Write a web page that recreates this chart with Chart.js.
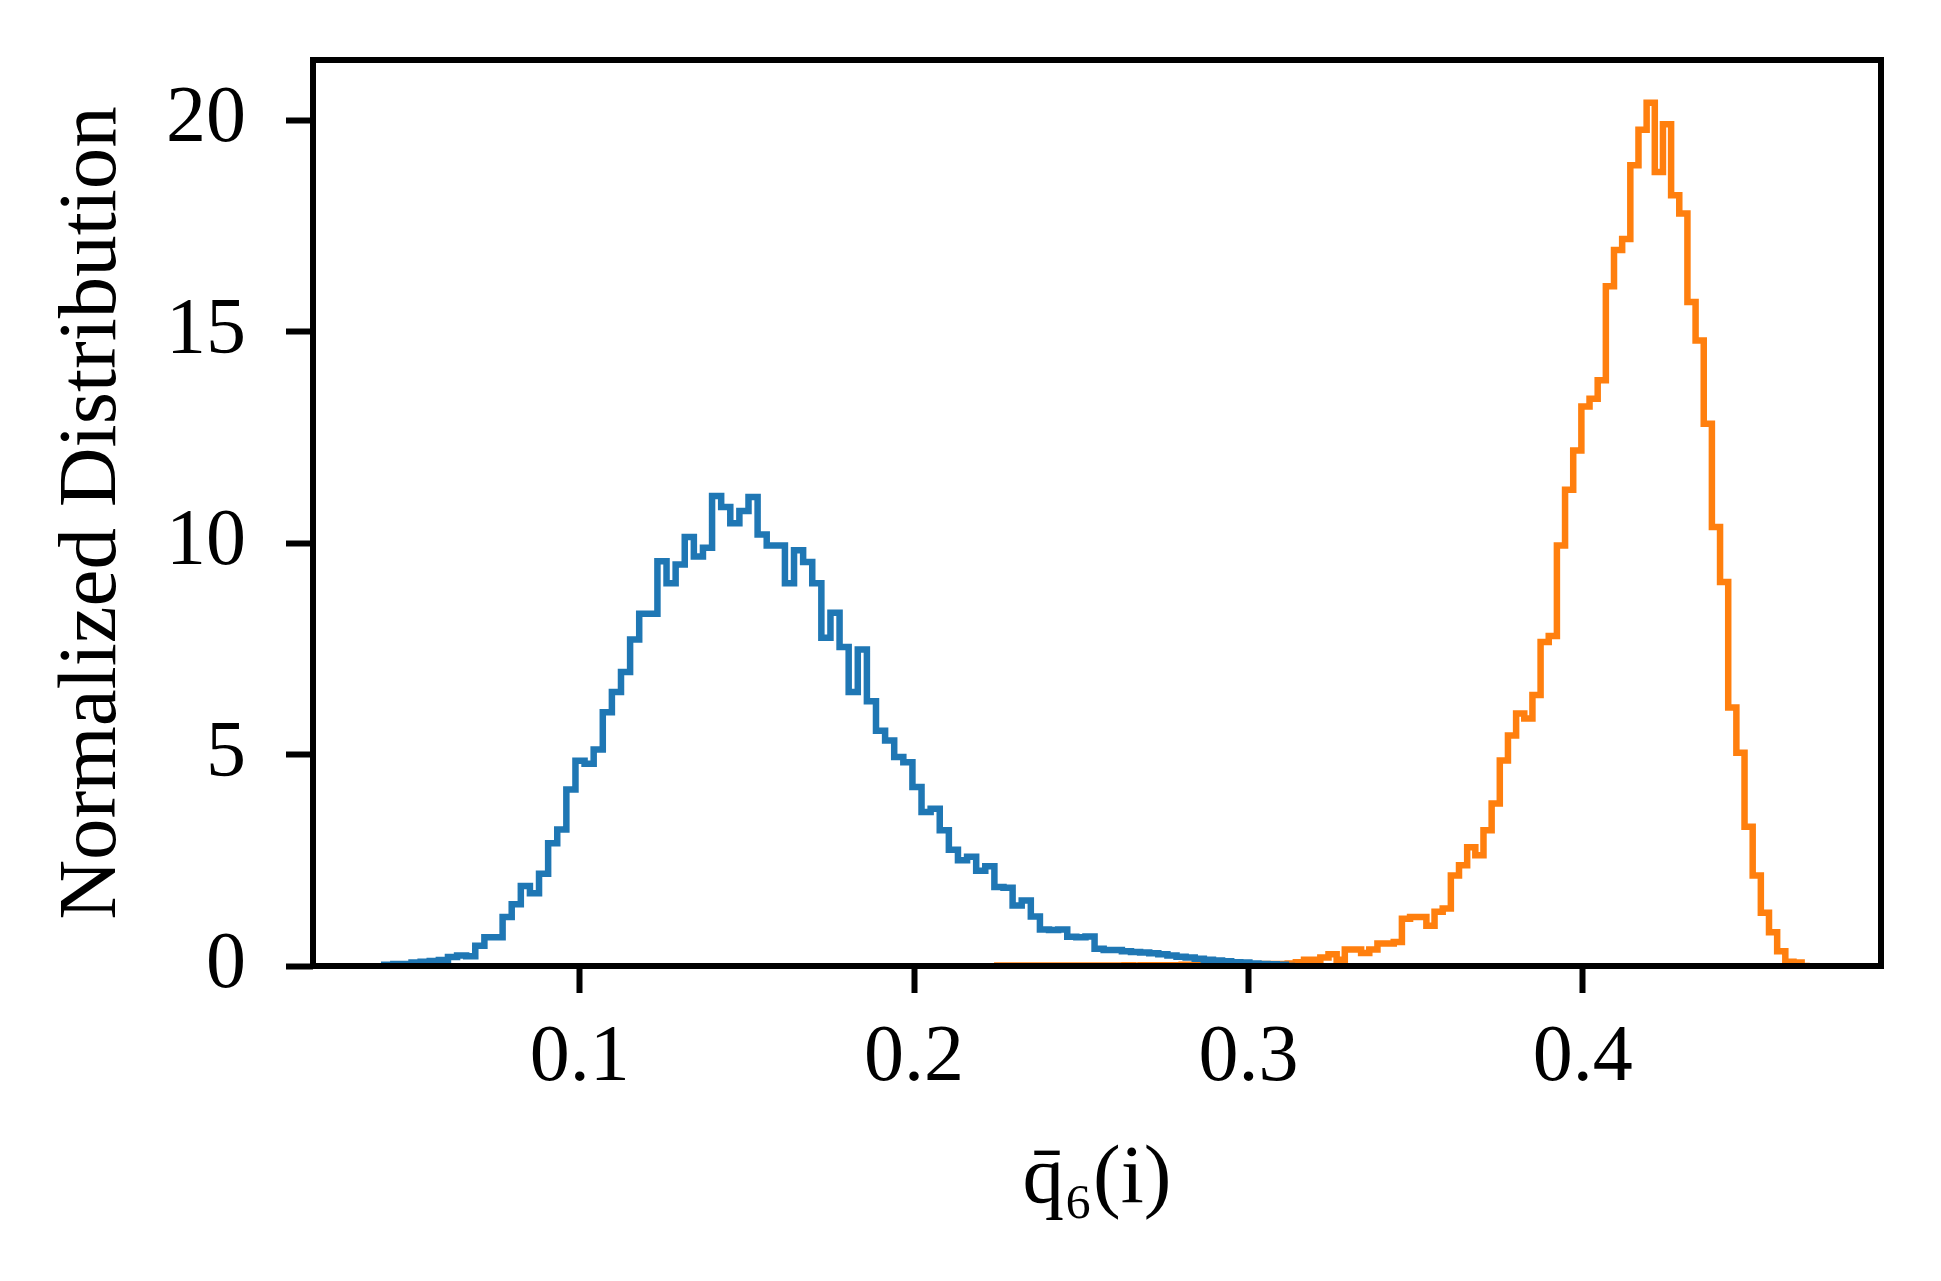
<!DOCTYPE html>
<html><head><meta charset="utf-8">
<script src="https://cdn.jsdelivr.net/npm/chart.js@4"></script>
<style>html,body{margin:0;padding:0;background:#fff;} #wrap{width:1941px;height:1281px;position:relative;}</style>
</head><body><div id="wrap"><canvas id="c" width="1941" height="1281"></canvas></div>
<script>
// Histogram bin heights (100 bins each)
const blueValues = [
 0.03,0.03,0.05,0.05,0.08,0.10,0.12,0.14,0.21,0.25,
 0.23,0.48,0.68,0.68,1.16,1.46,1.89,1.72,2.18,2.90,
 3.23,4.17,4.85,4.78,5.12,6.00,6.48,6.95,7.72,8.33,
 8.33,9.57,9.05,9.49,10.14,9.68,9.89,11.11,10.85,10.47,
 10.76,11.09,10.20,9.94,9.94,9.05,9.83,9.55,9.05,7.76,
 8.35,7.54,6.48,7.48,6.26,5.56,5.33,4.94,4.82,4.23,
 3.64,3.72,3.21,2.75,2.50,2.58,2.25,2.36,1.87,1.85,
 1.43,1.55,1.17,0.86,0.85,0.86,0.69,0.68,0.70,0.41,
 0.38,0.38,0.35,0.33,0.32,0.30,0.28,0.25,0.22,0.20,
 0.17,0.15,0.13,0.11,0.09,0.08,0.06,0.05,0.04,0.03];
const orangeValues = [
 0.04,0.01,0.01,0.01,0.01,0.01,0.01,0.01,0.01,0.01,
 0.01,0.01,0.01,0.01,0.01,0.01,0.01,0.02,0.01,0.02,
 0.02,0.02,0.02,0.02,0.03,0.02,0.03,0.03,0.03,0.03,
 0.03,0.03,0.03,0.04,0.05,0.05,0.05,0.06,0.09,0.15,
 0.15,0.20,0.28,0.15,0.39,0.39,0.31,0.39,0.53,0.53,
 0.57,1.12,1.16,1.16,0.95,1.28,1.36,2.14,2.38,2.81,
 2.62,3.21,3.84,4.86,5.45,5.97,5.85,6.41,7.66,7.80,
 9.94,11.26,12.19,13.23,13.41,13.85,16.07,16.93,17.19,18.93,
 19.77,20.41,18.77,19.90,18.22,17.79,15.70,14.79,12.82,10.38,
 9.08,6.11,5.04,3.29,2.14,1.26,0.80,0.35,0.10,0.08];
const blueBinStart = 0.0415, blueBinWidth = 0.002724;
const orangeBinStart = 0.2239, orangeBinWidth = 0.00244;
const xTicks = [0.1, 0.2, 0.3, 0.4];
const xTickLabels = ['0.1', '0.2', '0.3', '0.4'];
const yTicks = [0, 5, 10, 15, 20];
const yTickLabels = ['0', '5', '10', '15', '20'];
const xLabel = 'q\u0304\u2086(i)';
const yLabel = 'Normalized Distribution';

function stepPoints(start, width, vals) {
  const pts = [{x: start, y: 0}];
  vals.forEach((v, i) => pts.push({x: start + i * width, y: v}));
  pts.push({x: start + vals.length * width, y: 0});
  return pts;
}

const FONT = '"Liberation Serif", "Times New Roman", "DejaVu Serif", serif';

const frame = {
  id: 'frame',
  afterDatasetsDraw(chart) {
    const {ctx, chartArea: a} = chart;
    ctx.save();
    ctx.strokeStyle = '#000';
    ctx.lineWidth = 6;
    ctx.lineJoin = 'miter';
    ctx.strokeRect(a.left, a.top, a.right - a.left, a.bottom - a.top);
    ctx.restore();
  }
};

function zeroPad(s) { s.paddingTop = 0; s.paddingBottom = 0; s.paddingLeft = 0; s.paddingRight = 0; }

new Chart(document.getElementById('c'), {
  type: 'line',
  data: {
    datasets: [
      {data: stepPoints(blueBinStart, blueBinWidth, blueValues), borderColor: '#1f77b4', borderWidth: 6.5, stepped: 'after', fill: false, pointRadius: 0},
      {data: stepPoints(orangeBinStart, orangeBinWidth, orangeValues), borderColor: '#ff7f0e', borderWidth: 6.5, stepped: 'after', fill: false, pointRadius: 0}
    ]
  },
  options: {
    responsive: false, animation: false, devicePixelRatio: 1,
    layout: {padding: {top: 60, right: 60, left: 0, bottom: 0}},
    plugins: {legend: {display: false}, tooltip: {enabled: false}},
    scales: {
      x: {
        type: 'linear', min: 0.0202, max: 0.4892,
        afterBuildTicks: s => { s.ticks = xTicks.map(v => ({value: v})); },
        afterFit: s => { s.height = 315; zeroPad(s); },
        grid: {drawOnChartArea: false, drawTicks: true, tickLength: 27, tickWidth: 6, tickColor: '#000'},
        border: {display: false},
        ticks: {color: '#000', font: {family: FONT, size: 80}, padding: 18, maxRotation: 0,
                callback: v => xTickLabels[xTicks.indexOf(v)]},
        title: {display: true, text: xLabel, color: '#000', font: {family: FONT, size: 83}, padding: {top: 0, bottom: 51}}
      },
      y: {
        type: 'linear', min: 0, max: 21.42,
        afterBuildTicks: s => { s.ticks = yTicks.map(v => ({value: v})); },
        afterFit: s => { s.width = 313; zeroPad(s); },
        grid: {drawOnChartArea: false, drawTicks: true, tickLength: 27, tickWidth: 6, tickColor: '#000'},
        border: {display: false},
        ticks: {color: '#000', font: {family: FONT, size: 80}, padding: 40,
                callback: v => yTickLabels[yTicks.indexOf(v)]},
        title: {display: true, text: yLabel, color: '#000', font: {family: FONT, size: 83}, padding: {top: 43, bottom: 0}}
      }
    }
  },
  plugins: [frame]
});
</script></body></html>
